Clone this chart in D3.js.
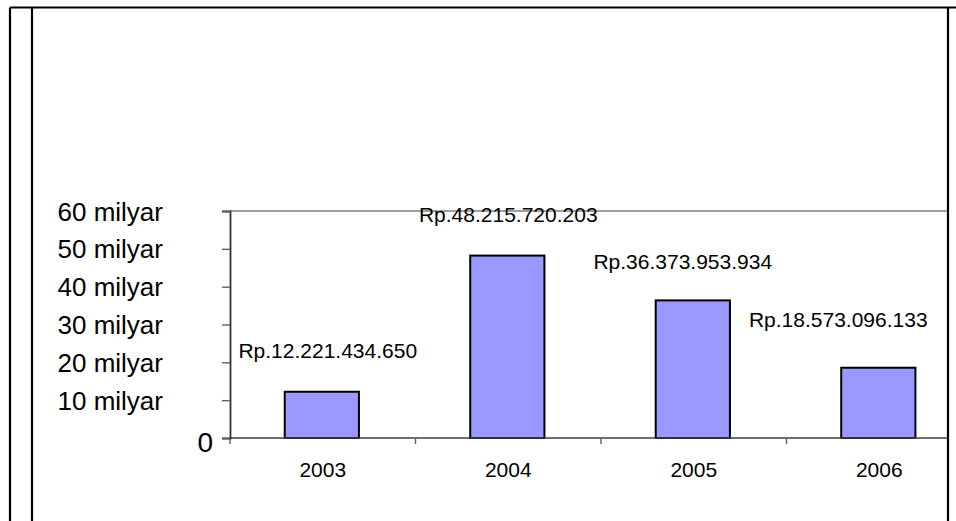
<!DOCTYPE html>
<html lang="id">
<head>
<meta charset="utf-8" />
<title>Rp per tahun</title>
<script src="https://cdn.jsdelivr.net/npm/d3@7"></script>
<style>
  html, body { margin: 0; background: #fff; }
  svg { display: block; font-family: "Liberation Sans", Arial, sans-serif; }
</style>
</head>
<body>
<script>
// values, in rupiah
const years = ["2003", "2004", "2005", "2006"];
const amounts = [12221434650, 48215720203, 36373953934, 18573096133];
const valueLabels = ["Rp.12.221.434.650", "Rp.48.215.720.203", "Rp.36.373.953.934", "Rp.18.573.096.133"];
const yTicks = [0, 10e9, 20e9, 30e9, 40e9, 50e9, 60e9];
const yTickLabels = ["0", "10 milyar", "20 milyar", "30 milyar", "40 milyar", "50 milyar", "60 milyar"];

// hand-placed labels in the original, offsets from the bar centre / top
const labelNudge = [[5, -34], [0, -34], [-11, -31], [-41, -41]];

const W = 956, H = 521;
const svg = d3.select("body").append("svg").attr("width", W).attr("height", H);

// frame lines
const frame = svg.append("g").attr("stroke", "#000").attr("stroke-width", 2.2);
frame.append("line").attr("x1", 10).attr("y1", 7.5).attr("x2", W).attr("y2", 7.5);
frame.append("line").attr("x1", 10).attr("y1", 7.5).attr("x2", 10).attr("y2", H);
frame.append("line").attr("x1", 32).attr("y1", 7.5).attr("x2", 32).attr("y2", H);

// plot area runs past the right frame line and gets clipped there
const plotL = 230, plotT = 211, plotB = 438, plotR = 972;

const x = d3.scaleBand().domain(years).range([plotL, plotR]).paddingInner(0).paddingOuter(0);
const y = d3.scaleLinear().domain([0, 60e9]).range([plotB, plotT]);

svg.append("defs").append("clipPath").attr("id", "plot")
  .append("rect").attr("x", 0).attr("y", 0).attr("width", 947).attr("height", H);

const plot = svg.append("g").attr("clip-path", "url(#plot)");

// top border of the plot area
plot.append("line")
  .attr("x1", plotL).attr("x2", plotR)
  .attr("y1", y(60e9)).attr("y2", y(60e9))
  .attr("stroke", "#808080").attr("stroke-width", 1.6);

plot.selectAll("rect.bar")
  .data(amounts)
  .join("rect")
    .attr("class", "bar")
    .attr("x", (d, i) => x(years[i]) + x.bandwidth() * 0.295)
    .attr("width", x.bandwidth() * 0.4)
    .attr("y", d => y(d))
    .attr("height", d => y(0) - y(d))
    .attr("fill", "#9999ff")
    .attr("stroke", "#000")
    .attr("stroke-width", 2);

// x axis: ticks between the categories
const xAxis = plot.append("g");
xAxis.append("line")
  .attr("x1", plotL).attr("x2", plotR)
  .attr("y1", plotB).attr("y2", plotB)
  .attr("stroke", "#404040").attr("stroke-width", 1.6);
xAxis.selectAll("line.tick")
  .data(years)
  .join("line")
    .attr("class", "tick")
    .attr("x1", d => x(d)).attr("x2", d => x(d))
    .attr("y1", plotB).attr("y2", plotB + 6)
    .attr("stroke", "#606060").attr("stroke-width", 1.4);
xAxis.selectAll("text")
  .data(years)
  .join("text")
    .attr("x", d => x(d) + x.bandwidth() / 2)
    .attr("y", 477)
    .attr("text-anchor", "middle")
    .attr("font-size", 21)
    .attr("fill", "#000")
    .text(d => d);

// y axis
const yAxis = svg.append("g").attr("transform", `translate(${plotL},0)`)
  .call(d3.axisLeft(y).tickValues(yTicks).tickSize(8).tickFormat(""));
yAxis.select(".domain").attr("stroke", "#333").attr("stroke-width", 1.8);
yAxis.selectAll(".tick line").attr("stroke", "#606060").attr("stroke-width", 1.4);

svg.append("g").selectAll("text")
  .data(yTicks)
  .join("text")
    .attr("x", (d, i) => i === 0 ? 213 : 163)
    .attr("y", (d, i) => i === 0 ? y(d) + 13.5 : y(d) + 9.5)
    .attr("text-anchor", "end")
    .attr("font-size", (d, i) => i === 0 ? 28 : 26)
    .attr("fill", "#000")
    .text((d, i) => yTickLabels[i]);

// value labels
svg.append("g").selectAll("text")
  .data(amounts)
  .join("text")
    .attr("x", (d, i) => x(years[i]) + x.bandwidth() / 2 + labelNudge[i][0])
    .attr("y", (d, i) => y(d) + labelNudge[i][1])
    .attr("text-anchor", "middle")
    .attr("font-size", 21)
    .attr("fill", "#000")
    .text((d, i) => valueLabels[i]);

// right frame line drawn last so it sits over the plot
svg.append("line")
  .attr("x1", 948).attr("y1", 7.5).attr("x2", 948).attr("y2", H)
  .attr("stroke", "#000").attr("stroke-width", 2.2);
</script>
</body>
</html>
